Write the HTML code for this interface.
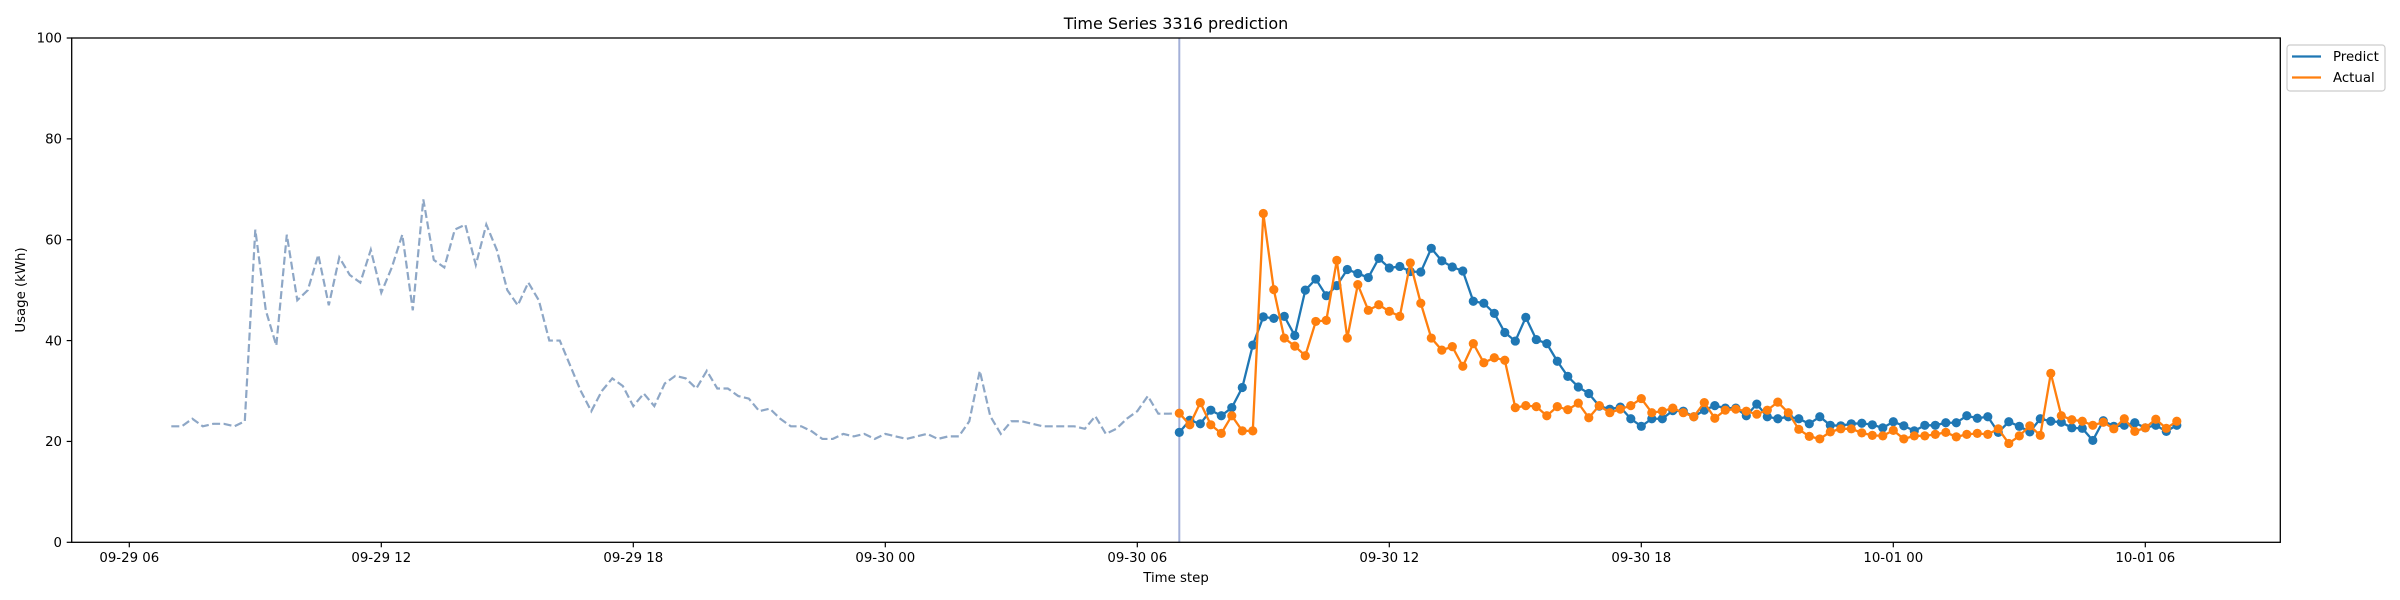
<!DOCTYPE html>
<html><head><meta charset="utf-8"><style>
html,body{margin:0;padding:0;background:#fff;}
svg{display:block;font-family:"DejaVu Sans","Liberation Sans",sans-serif;}
</style></head><body>
<svg id="chart" width="2400" height="600" viewBox="0 0 2400 600" xmlns="http://www.w3.org/2000/svg">
<rect x="0" y="0" width="2400" height="600" fill="#fff"/>
<text x="1176" y="29" font-size="16" text-anchor="middle">Time Series 3316 prediction</text>
<text x="1176" y="582" font-size="13.3" text-anchor="middle">Time step</text>
<text x="0" y="0" font-size="13.3" text-anchor="middle" transform="translate(25,290) rotate(-90)">Usage (kWh)</text>
<g id="grid"></g>
<g id="marks"></g>
<rect x="71.7" y="38" width="2208.6" height="504.3" fill="none" stroke="#000" stroke-width="1.3"/>
<g>
<rect x="2287" y="45" width="98" height="46" rx="3" fill="#fff" stroke="#ccc" stroke-width="1.2"/>
<line x1="2292" y1="56.5" x2="2321" y2="56.5" stroke="#1f77b4" stroke-width="2.2"/>
<text x="2333" y="61" font-size="13.3">Predict</text>
<line x1="2292" y1="77.5" x2="2321" y2="77.5" stroke="#ff7f0e" stroke-width="2.2"/>
<text x="2333" y="82" font-size="13.3">Actual</text>
</g>
</svg>
<script>
const history = [23,23,24.5,23,23.5,23.5,23,24,
62,46,39,61,48,50,57,47,
56.5,53,51.5,58,49.5,54.5,61,46,
68,56,54.5,62,63,55,63,58,
50,47,51.5,48,40,40,35,30,
26,30,32.5,31,27,29.5,27,31.5,
33,32.5,30.5,34,30.5,30.5,29,28.5,
26,26.5,24.5,23,23,22,20.5,20.5,
21.5,21,21.5,20.5,21.5,21,20.5,21,
21.5,20.5,21,21,24,34,25,21.5,
24,24,23.5,23,23,23,23,22.5,
25,21.5,22.5,24.5,26,29,25.5,25.5];
const predict = [21.8,24.2,23.5,26.2,25.1,26.7,30.7,39.1,44.7,44.4,44.8,41.0,50.0,52.2,48.9,50.9,
54.1,53.3,52.5,56.3,54.4,54.7,53.7,53.6,58.3,55.8,54.6,53.8,47.8,47.4,45.4,41.6,
39.9,44.6,40.2,39.4,35.9,32.9,30.8,29.5,27.0,26.4,26.8,24.5,23.0,24.5,24.5,26.1,26.0,
24.9,26.2,27.1,26.6,26.6,25.1,27.4,24.9,24.5,24.9,24.5,23.5,24.9,23.2,23.1,23.5,
23.6,23.3,22.7,23.9,23.1,22.1,23.2,23.2,23.7,23.7,25.1,24.6,24.9,21.8,23.9,23.0,
21.9,24.5,24.0,23.8,22.7,22.6,20.2,24.1,23.0,23.2,23.7,22.7,23.2,22.0,23.2];
const actual = [25.6,23.3,27.7,23.3,21.6,25.1,22.1,22.1,65.2,50.1,40.5,38.9,37.0,43.8,44.0,55.9,
40.5,51.1,46.0,47.1,45.8,44.8,55.4,47.4,40.5,38.1,38.8,34.9,39.4,35.6,36.6,36.1,
26.7,27.1,26.9,25.1,26.9,26.3,27.6,24.7,27.1,25.7,26.4,27.1,28.5,25.7,26.0,26.6,25.7,
24.9,27.7,24.6,26.2,26.4,26.0,25.4,26.2,27.8,25.7,22.4,21.0,20.5,21.9,22.5,22.5,
21.7,21.2,21.1,22.2,20.5,21.1,21.1,21.4,21.8,20.9,21.4,21.6,21.4,22.5,19.6,21.1,
23.1,21.2,33.5,25.1,24.3,24.0,23.2,23.8,22.5,24.5,22.0,22.7,24.4,22.6,24.0];
const yTicks = [0,20,40,60,80,100];
const xTickLabels = ["09-29 06","09-29 12","09-29 18","09-30 00","09-30 06","09-30 12","09-30 18","10-01 00","10-01 06"];
const xTickHours = [0,6,12,18,24,30,36,42,48];
const historyStartHour = 1;    // 09-29 07:00
const forecastStartHour = 25;  // 09-30 07:00
const stepHours = 0.25;

const NS = "http://www.w3.org/2000/svg";
const PX_PER_HOUR = 42.0, X0 = 129.3;
const Y0 = 542.3, Y_PER = 5.043;
function xScale(h){ return X0 + PX_PER_HOUR*h; }
function yScale(v){ return Y0 - v*Y_PER; }
function mk(tag, attrs){ const e=document.createElementNS(NS,tag); for(const k in attrs) e.setAttribute(k,attrs[k]); return e; }
const grid = document.getElementById('grid');
const marks = document.getElementById('marks');

yTicks.forEach(v=>{
  const y=yScale(v);
  const t=mk('line',{x1:66.7,x2:71.7,y1:y,y2:y,stroke:'#000','stroke-width':1.2});
  
  
  grid.appendChild(t);
  const l=mk('text',{x:62,y:y+4.7,'font-size':13.3,'text-anchor':'end'});
  
  
  l.textContent=v; grid.appendChild(l);
});
xTickLabels.forEach((s,i)=>{
  const x=xScale(xTickHours[i]);
  const t=mk('line',{x1:x,x2:x,y1:542.3,y2:547.3,stroke:'#000','stroke-width':1.2});
  
  
  grid.appendChild(t);
  const l=mk('text',{x:x,y:562,'font-size':13.3,'text-anchor':'middle'});
  
  
  l.textContent=s; grid.appendChild(l);
});

// history dashed
let hp = history.map((v,i)=>xScale(historyStartHour+i*stepHours)+','+yScale(v));
hp.push(xScale(forecastStartHour)+','+yScale(actual[0]));
const hl=mk('polyline',{points:hp.join(' '),fill:'none',stroke:'#8ea7c6','stroke-width':2.2,'stroke-dasharray':'8,3.5'});


marks.appendChild(hl);

// forecast start vertical line
const vx=xScale(forecastStartHour);
const vl=mk('line',{x1:vx,x2:vx,y1:38,y2:542.3,stroke:'#a4b0d8','stroke-width':2});


marks.appendChild(vl);

function series(vals,color,name){
  const g=mk('g',{});
  
  
  const pts=vals.map((v,i)=>xScale(forecastStartHour+i*stepHours)+','+yScale(v)).join(' ');
  const pl=mk('polyline',{points:pts,fill:'none',stroke:color,'stroke-width':2.3});
  
  
  g.appendChild(pl);
  vals.forEach((v,i)=>{
    const c=mk('circle',{cx:xScale(forecastStartHour+i*stepHours),cy:yScale(v),r:4.6,fill:color});
    
    
    g.appendChild(c);
  });
  marks.appendChild(g);
}
series(predict,'#1f77b4','predict');
series(actual,'#ff7f0e','actual');
</script>
</body></html>
